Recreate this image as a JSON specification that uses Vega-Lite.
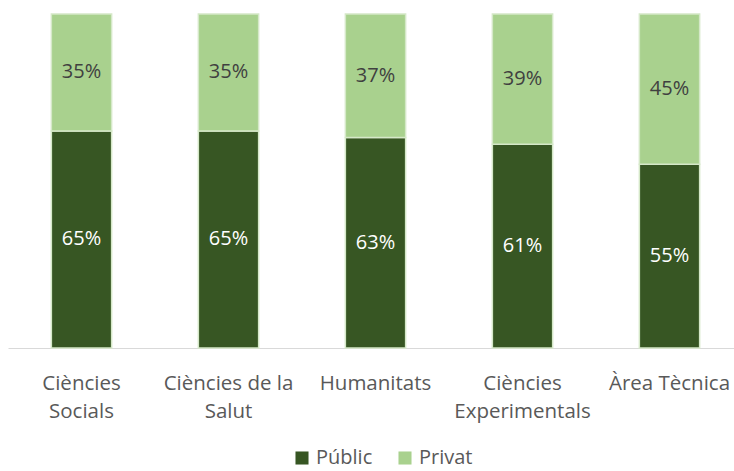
{
  "$schema": "https://vega.github.io/schema/vega-lite/v6.json",
  "width": 735,
  "height": 334,
  "autosize": {"type": "none"},
  "padding": {"left": 8, "top": 14, "right": 0, "bottom": 123},
  "background": "white",
  "config": {"view": {"stroke": null}, "font": "Open Sans"},
  "data": {
    "values": [
      {"area": "Ciències Socials", "serie": "Públic", "valor": 0.65},
      {"area": "Ciències Socials", "serie": "Privat", "valor": 0.35},
      {"area": "Ciències de la Salut", "serie": "Públic", "valor": 0.65},
      {"area": "Ciències de la Salut", "serie": "Privat", "valor": 0.35},
      {"area": "Humanitats", "serie": "Públic", "valor": 0.63},
      {"area": "Humanitats", "serie": "Privat", "valor": 0.37},
      {"area": "Ciències Experimentals", "serie": "Públic", "valor": 0.61},
      {"area": "Ciències Experimentals", "serie": "Privat", "valor": 0.39},
      {"area": "Àrea Tècnica", "serie": "Públic", "valor": 0.55},
      {"area": "Àrea Tècnica", "serie": "Privat", "valor": 0.45}
    ]
  },
  "transform": [
    {"stack": "valor", "groupby": ["area"], "sort": [{"field": "serie", "order": "descending"}], "as": ["y0", "y1"]},
    {"calculate": "(datum.y0 + datum.y1) / 2", "as": "ymid"}
  ],
  "encoding": {
    "x": {
      "field": "area",
      "type": "nominal",
      "sort": ["Ciències Socials", "Ciències de la Salut", "Humanitats", "Ciències Experimentals", "Àrea Tècnica"],
      "scale": {"paddingInner": 0.59, "paddingOuter": 0.295},
      "axis": {
        "title": null,
        "labelAngle": 0,
        "ticks": false,
        "domainColor": "#D9D9D9",
        "domainWidth": 1,
        "labelColor": "#595959",
        "labelFontSize": 20.5,
        "labelFont": "Open Sans",
        "labelPadding": 25,
        "labelLineHeight": 28,
        "labelLimit": 0,
        "labelExpr": "datum.value == 'Ciències Socials' ? ['Ciències', 'Socials'] : datum.value == 'Ciències de la Salut' ? ['Ciències de la', 'Salut'] : datum.value == 'Ciències Experimentals' ? ['Ciències', 'Experimentals'] : datum.value"
      }
    }
  },
  "layer": [
    {
      "mark": {"type": "bar", "stroke": "#D5E8C8", "strokeWidth": 1.5},
      "encoding": {
        "y": {"field": "y0", "type": "quantitative", "scale": {"domain": [0, 1]}, "axis": null},
        "y2": {"field": "y1"},
        "color": {
          "field": "serie",
          "type": "nominal",
          "scale": {"domain": ["Públic", "Privat"], "range": ["#375623", "#A9D18E"]},
          "legend": {
            "title": null,
            "orient": "none",
            "direction": "horizontal",
            "legendX": 284,
            "legendY": 434,
            "symbolType": "square",
            "symbolSize": 170,
            "symbolStrokeWidth": 0,
            "labelFontSize": 20,
            "labelFont": "Open Sans",
            "labelColor": "#595959",
            "columnPadding": 22,
            "labelOffset": 4
          }
        }
      }
    },
    {
      "mark": {"type": "text", "fontSize": 20, "font": "Open Sans", "baseline": "middle"},
      "encoding": {
        "y": {"field": "ymid", "type": "quantitative", "scale": {"domain": [0, 1]}},
        "text": {"field": "valor", "type": "quantitative", "format": ".0%"},
        "color": {"condition": {"test": "datum.serie == 'Públic'", "value": "#FFFFFF"}, "value": "#404040"}
      }
    }
  ]
}
